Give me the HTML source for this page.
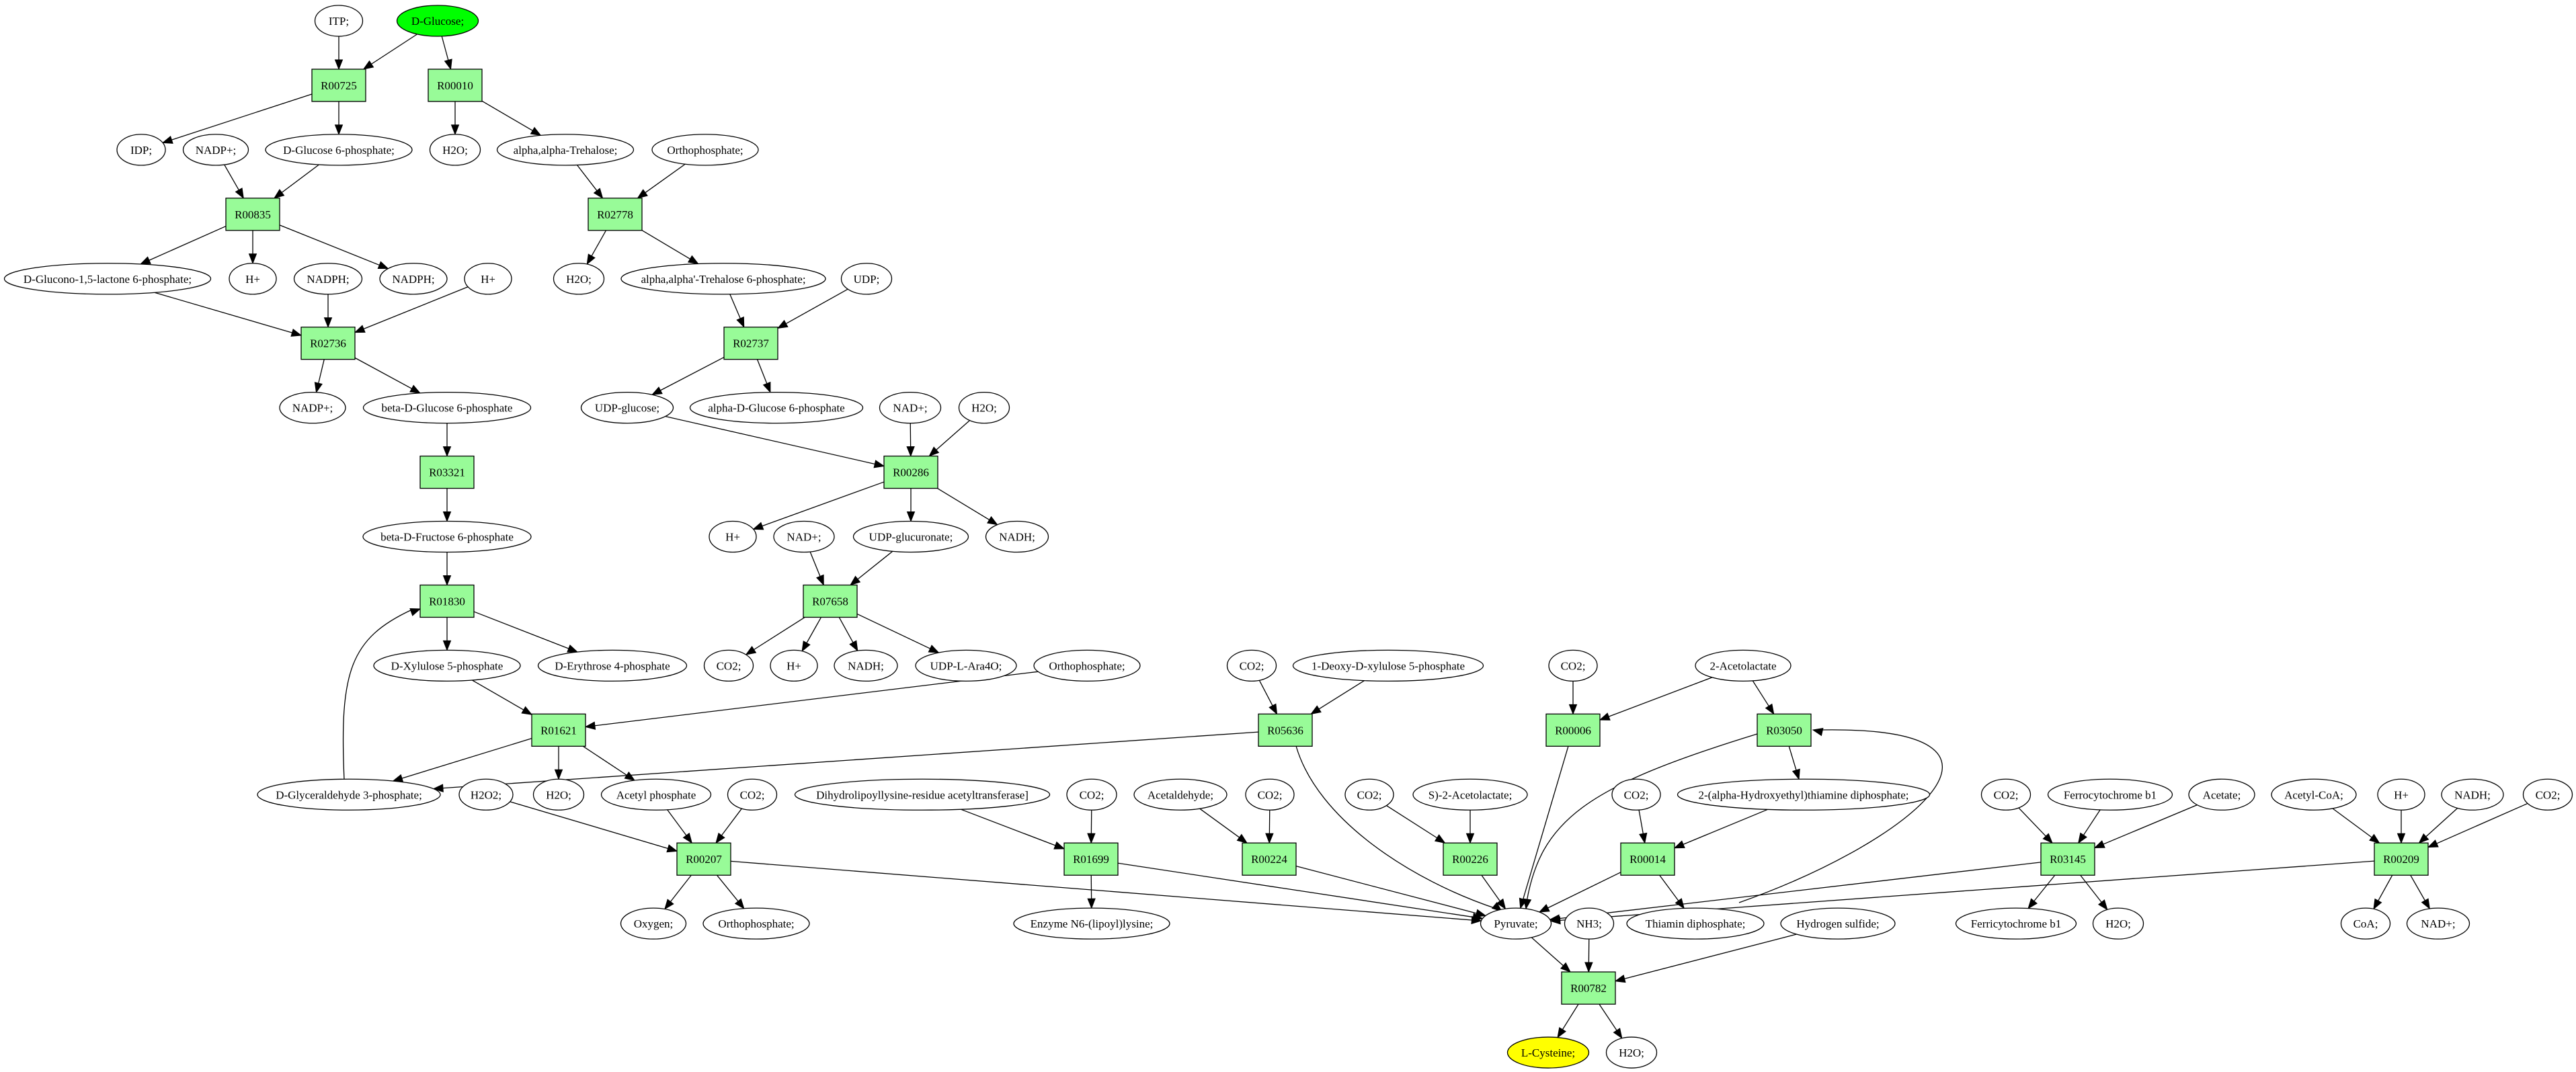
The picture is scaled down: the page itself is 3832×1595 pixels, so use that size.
<!DOCTYPE html>
<html><head><meta charset="utf-8"><style>
html,body{margin:0;padding:0;background:#fff}
svg{display:block}
text{font-family:"Liberation Serif",serif;font-size:17px;fill:#000}
</style></head><body>
<svg id="s" width="3832" height="1595" viewBox="0 0 3832 1595" xmlns="http://www.w3.org/2000/svg"></svg>
<script>
const Y=k=>31+95.94*k;
const N={};
function n(id,label,x,row,w,type,fill){N[id]={label,x,y:Y(row),w:w||80,type:type||'e',fill:fill||'#fff'};}
n('ITP','ITP;',504,0,71);n('GLC','D-Glucose;',651,0,121,'e','#00ff00');
n('R00725','R00725',504,1,80,'b');n('R00010','R00010',677,1,80,'b');
n('IDP','IDP;',210,2,72);n('NADP1','NADP+;',321,2,97);n('G6P','D-Glucose 6-phosphate;',504,2,218);
n('H2O1','H2O;',677,2,75);n('TRE','alpha,alpha-Trehalose;',841,2,203);n('PI1','Orthophosphate;',1049,2,158);
n('R00835','R00835',376,3,80,'b');n('R02778','R02778',915,3,80,'b');
n('GLN','D-Glucono-1,5-lactone 6-phosphate;',160,4,307);n('H1','H+',376,4,70);n('NADPH1','NADPH;',488,4,101);
n('NADPH2','NADPH;',615,4,100);n('H2','H+',726,4,70);n('H2O2n','H2O;',861,4,75);
n('T6P',"alpha,alpha'-Trehalose 6-phosphate;",1076,4,304);n('UDP','UDP;',1289,4,75);
n('R02736','R02736',488,5,80,'b');n('R02737','R02737',1117,5,80,'b');
n('NADP2','NADP+;',465,6,98);n('BG6P','beta-D-Glucose 6-phosphate',665,6,249);n('UDPG','UDP-glucose;',933,6,137);
n('AG6P','alpha-D-Glucose 6-phosphate',1155,6,257);n('NAD1','NAD+;',1354,6,91);n('H2O3','H2O;',1464,6,75);
n('R03321','R03321',665,7,80,'b');n('R00286','R00286',1355,7,80,'b');
n('BF6P','beta-D-Fructose 6-phosphate',665,8,250);n('H3','H+',1090,8,70);n('NAD2','NAD+;',1196,8,90);
n('UDPGA','UDP-glucuronate;',1355,8,171);n('NADH1','NADH;',1513,8,93);
n('R01830','R01830',665,9,80,'b');n('R07658','R07658',1235,9,80,'b');
n('XYL','D-Xylulose 5-phosphate',665,10,218);n('ERY','D-Erythrose 4-phosphate',911,10,221);n('CO2a','CO2;',1084,10,73);
n('H4','H+',1181,10,70);n('NADH2','NADH;',1288,10,94);n('ARA','UDP-L-Ara4O;',1437,10,150);n('PI2','Orthophosphate;',1617,10,158);
n('CO2b','CO2;',1862,10,73);n('DXP','1-Deoxy-D-xylulose 5-phosphate',2065,10,283);n('CO2c','CO2;',2340,10,72);n('ACL','2-Acetolactate',2593,10,142);
n('R01621','R01621',831,11,80,'b');n('R05636','R05636',1912,11,80,'b');n('R00006','R00006',2340,11,80,'b');n('R03050','R03050',2654,11,80,'b');
n('GAP','D-Glyceraldehyde 3-phosphate;',519,12,272);n('H2O2','H2O2;',723,12,80);n('H2O4','H2O;',831,12,75);n('ACP','Acetyl phosphate',976,12,163);
n('CO2d','CO2;',1119,12,73);n('DLAT','Dihydrolipoyllysine-residue acetyltransferase]',1372,12,379);n('CO2e','CO2;',1624,12,74);
n('ACA','Acetaldehyde;',1756,12,138);n('CO2f','CO2;',1889,12,72);n('CO2g','CO2;',2037,12,72);n('SACL','S)-2-Acetolactate;',2187,12,170);
n('CO2h','CO2;',2434,12,72);n('HET','2-(alpha-Hydroxyethyl)thiamine diphosphate;',2683,12,375);n('CO2i','CO2;',2984,12,73);
n('FER','Ferrocytochrome b1',3139,12,185);n('ACE','Acetate;',3305,12,98);n('ACOA','Acetyl-CoA;',3442,12,126);n('H5','H+',3572,12,70);
n('NADH3','NADH;',3678,12,92);n('CO2j','CO2;',3790,12,73);
n('R00207','R00207',1047,13,80,'b');n('R01699','R01699',1623,13,80,'b');n('R00224','R00224',1888,13,80,'b');n('R00226','R00226',2187,13,80,'b');
n('R00014','R00014',2451,13,80,'b');n('R03145','R03145',3076,13,80,'b');n('R00209','R00209',3572,13,80,'b');
n('OXY','Oxygen;',972,14,97);n('PI3','Orthophosphate;',1125,14,158);n('ENZ','Enzyme N6-(lipoyl)lysine;',1624,14,232);
n('PYR','Pyruvate;',2255,14,105);n('NH3','NH3;',2364,14,73);n('TPP','Thiamin diphosphate;',2522,14,204);n('H2S','Hydrogen sulfide;',2734,14,170);
n('FERI','Ferricytochrome b1',2999,14,179);n('H2O5','H2O;',3151,14,75);n('COA','CoA;',3519,14,73);n('NAD3','NAD+;',3627,14,93);
n('R00782','R00782',2363,15,80,'b');
n('CYS','L-Cysteine;',2303,16,121,'e','#ffff00');n('H2O6','H2O;',2427,16,75);

const E=`ITP R00725,GLC R00725,GLC R00010,R00725 IDP,R00725 G6P,R00010 H2O1,R00010 TRE,NADP1 R00835,G6P R00835,TRE R02778,PI1 R02778,
R00835 GLN,R00835 H1,R00835 NADPH2,R02778 H2O2n,R02778 T6P,GLN R02736,NADPH1 R02736,H2 R02736,T6P R02737,UDP R02737,
R02736 NADP2,R02736 BG6P,R02737 UDPG,R02737 AG6P,BG6P R03321,UDPG R00286,NAD1 R00286,H2O3 R00286,R03321 BF6P,
R00286 H3,R00286 UDPGA,R00286 NADH1,BF6P R01830,NAD2 R07658,UDPGA R07658,R01830 XYL,R01830 ERY,
R07658 CO2a,R07658 H4,R07658 NADH2,R07658 ARA,XYL R01621,PI2 R01621,CO2b R05636,DXP R05636,CO2c R00006,ACL R00006,ACL R03050,
R01621 GAP,R01621 H2O4,R01621 ACP,R05636 GAP,R00006 PYR,R03050 HET,H2O2 R00207,ACP R00207,CO2d R00207,DLAT R01699,CO2e R01699,
ACA R00224,CO2f R00224,CO2g R00226,SACL R00226,CO2h R00014,HET R00014,CO2i R03145,FER R03145,ACE R03145,
ACOA R00209,H5 R00209,NADH3 R00209,CO2j R00209,R00207 OXY,R00207 PI3,R00207 PYR,R01699 ENZ,R01699 PYR,R00224 PYR,R00226 PYR,
R00014 PYR,R00014 TPP,R03145 PYR,R03145 FERI,R03145 H2O5,R00209 PYR,R00209 COA,R00209 NAD3,PYR R00782,NH3 R00782,H2S R00782,
R00782 CYS,R00782 H2O6`.split(',').map(s=>s.trim().split(' '));
function clip(nd,dx,dy){let t;
 if(nd.type==='b'){t=Math.min(40/Math.abs(dx||1e-9),24/Math.abs(dy||1e-9));}
 else{const rx=nd.w/2,ry=23;t=1/Math.sqrt((dx/rx)**2+(dy/ry)**2);}
 return [nd.x+dx*t,nd.y+dy*t];}
let out='';
function arrow(x,y,ux,uy){const L=14,W=5.5;const bx=x-ux*L,by=y-uy*L;
 return `<polygon points="${x},${y} ${bx-uy*W},${by+ux*W} ${bx+uy*W},${by-ux*W}" fill="#000" stroke="#000"/>`;}
for(const [a,b] of E){const A=N[a],B=N[b];const dx=B.x-A.x,dy=B.y-A.y;
 const p=clip(A,dx,dy),q=clip(B,-dx,-dy);const L=Math.hypot(q[0]-p[0],q[1]-p[1]);const ux=(q[0]-p[0])/L,uy=(q[1]-p[1])/L;
 out+=`<line x1="${p[0]}" y1="${p[1]}" x2="${q[0]-ux*12}" y2="${q[1]-uy*12}" stroke="#000" stroke-width="1.3"/>`+arrow(q[0],q[1],ux,uy);}
function curve(d,ex,ey,cx,cy){const L=Math.hypot(ex-cx,ey-cy);out+=`<path d="${d}" fill="none" stroke="#000" stroke-width="1.3"/>`+arrow(ex,ey,(ex-cx)/L,(ey-cy)/L);}
curve('M512,1160 C505,1000 520,950 613,907',625,906,600,915);
curve('M2587,1343 C2850,1250 3050,1080 2708,1086',2697,1086,2760,1100);
curve('M1928,1110 C1960,1220 2100,1310 2226,1352',2234,1356,2190,1320);
curve('M2614,1092 C2360,1170 2290,1220 2270,1348',2270,1352,2276,1310);
for(const id in N){const d=N[id];
 if(d.type==='b')out+=`<rect x="${d.x-40}" y="${d.y-24}" width="80" height="48" fill="#98fb98" stroke="#000" stroke-width="1.3"/>`;
 else out+=`<ellipse cx="${d.x}" cy="${d.y}" rx="${d.w/2}" ry="23" fill="${d.fill}" stroke="#000" stroke-width="1.3"/>`;
 const lab=d.label.replace(/&/g,'&amp;').replace(/</g,'&lt;');
 out+=`<text x="${d.x}" y="${d.y+6}" text-anchor="middle">${lab}</text>`;}
document.getElementById('s').innerHTML=out;
</script>
</body></html>
